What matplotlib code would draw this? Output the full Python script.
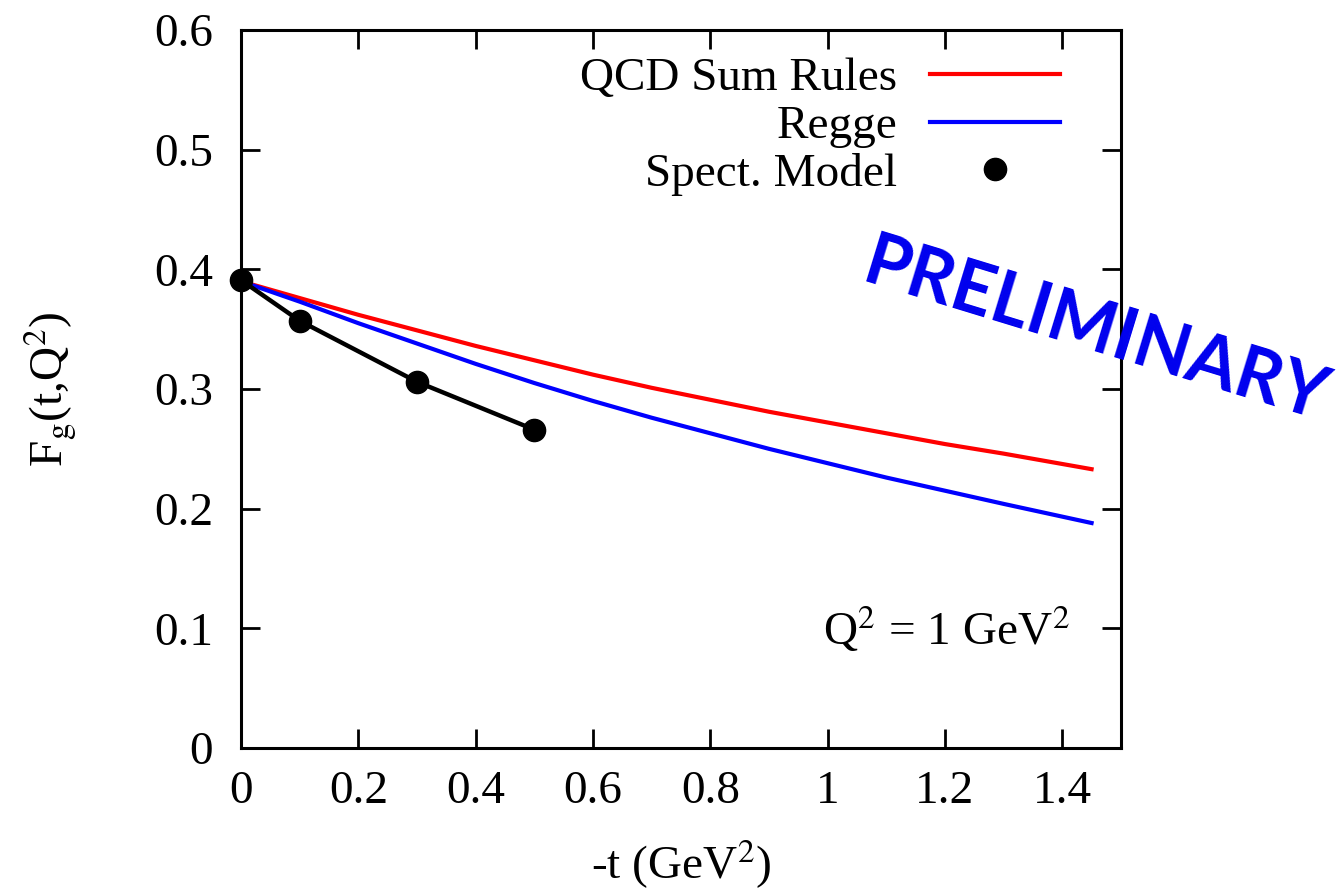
import numpy as np
import matplotlib
matplotlib.use('Agg')
import matplotlib.pyplot as plt

# values
t_qcd = [0.0, 0.1, 0.2, 0.3, 0.4, 0.5, 0.6, 0.7, 0.8, 0.9, 1.0, 1.1, 1.2, 1.3, 1.45]
f_qcd = [0.390, 0.376, 0.362, 0.349, 0.336, 0.324, 0.312, 0.301, 0.291, 0.281,
         0.272, 0.263, 0.254, 0.246, 0.233]
t_regge = [0.0, 0.1, 0.2, 0.3, 0.4, 0.5, 0.6, 0.7, 0.8, 0.9, 1.0, 1.1, 1.2, 1.3, 1.45]
f_regge = [0.390, 0.373, 0.355, 0.338, 0.321, 0.305, 0.290, 0.276, 0.263, 0.250,
           0.238, 0.226, 0.215, 0.204, 0.188]
t_spect = [0.0, 0.1, 0.3, 0.5]
f_spect = [0.391, 0.357, 0.306, 0.266]

xticks = [0, 0.2, 0.4, 0.6, 0.8, 1, 1.2, 1.4]
xtick_labels = ['0', '0.2', '0.4', '0.6', '0.8', '1', '1.2', '1.4']
yticks = [0, 0.1, 0.2, 0.3, 0.4, 0.5, 0.6]
ytick_labels = ['0', '0.1', '0.2', '0.3', '0.4', '0.5', '0.6']

plt.rcParams['font.family'] = ['Liberation Serif', 'DejaVu Serif']
plt.rcParams['mathtext.fontset'] = 'stix'
FS = 34

fig = plt.figure(figsize=(13.36, 8.96), dpi=100)
ax = fig.add_axes([0.1804, 0.1652, 0.839 - 0.1804, 0.9665 - 0.1652])

ax.plot(t_qcd, f_qcd, color='#ff0000', lw=3, label='QCD Sum Rules')
ax.plot(t_regge, f_regge, color='#0000ff', lw=3, label='Regge')
ax.plot(t_spect, f_spect, color='black', lw=3.2, zorder=3)
ax.plot(t_spect, f_spect, 'o', color='black', ms=16, label='Spect. Model', zorder=4, clip_on=False)

ax.set_xlim(0, 1.5)
ax.set_ylim(0, 0.6)
ax.set_xticks(xticks)
ax.set_xticklabels(xtick_labels)
ax.set_yticks(yticks)
ax.set_yticklabels(ytick_labels)
ax.tick_params(direction='in', length=14, width=2, top=True, right=True,
               labelsize=FS)
ax.tick_params(axis='x', pad=16)
ax.tick_params(axis='y', pad=20)
for s in ax.spines.values():
    s.set_linewidth(2.2)

ax.set_xlabel(r'-t (GeV$^{2}$)', fontsize=FS, labelpad=18)
ax.set_ylabel(r'F$_{\rm g}$(t,Q$^{2}$)', fontsize=FS, labelpad=54)

leg = ax.legend(loc='upper right', bbox_to_anchor=(0.931, 0.962), frameon=False,
                markerfirst=False, fontsize=FS, handlelength=2.75, handletextpad=0.7,
                borderaxespad=0, borderpad=0, labelspacing=0.1)

ax.text(1.413, 0.086, r'Q$^{2}$ = 1 GeV$^{2}$', fontsize=FS, ha='right', va='baseline')

fig.text(0.820, 0.630, 'PRELIMINARY', color='#0000ee', fontsize=52, fontweight='bold',
         family='Lato', rotation=-17, ha='center', va='center',
         rotation_mode='anchor')

fig.savefig('out.png', dpi=100)
